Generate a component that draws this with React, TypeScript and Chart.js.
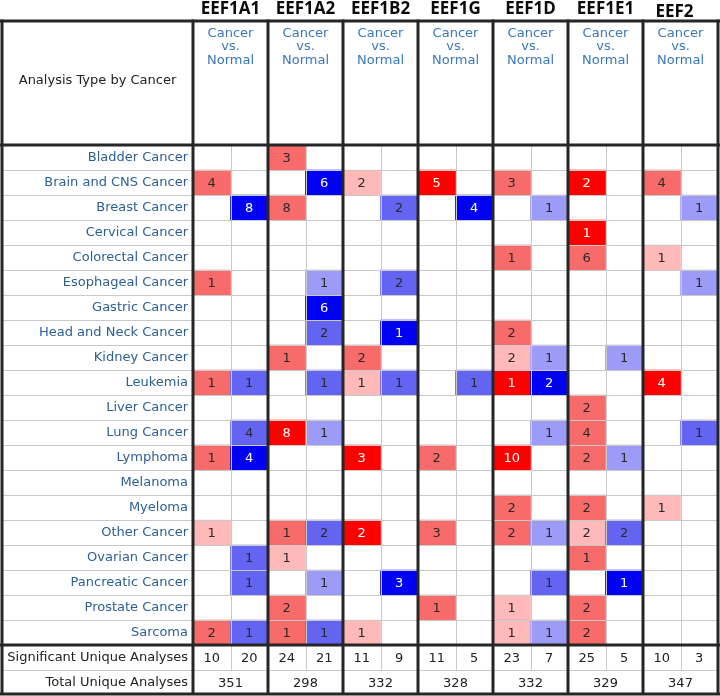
import React, { useEffect, useRef } from "react";
import { Chart, registerables } from "chart.js";

Chart.register(...registerables);

const cancers = [
  "Bladder Cancer", "Brain and CNS Cancer", "Breast Cancer", "Cervical Cancer",
  "Colorectal Cancer", "Esophageal Cancer", "Gastric Cancer", "Head and Neck Cancer",
  "Kidney Cancer", "Leukemia", "Liver Cancer", "Lung Cancer", "Lymphoma", "Melanoma",
  "Myeloma", "Other Cancer", "Ovarian Cancer", "Pancreatic Cancer", "Prostate Cancer", "Sarcoma",
];
const summaryLabels = ["Significant Unique Analyses", "Total Unique Analyses"];
const genes = ["EEF1A1", "EEF1A2", "EEF1B2", "EEF1G", "EEF1D", "EEF1E1", "EEF2"];

// counts per cancer (row order above); shade: 1 light, 2 medium, 3 strong
const a1Up = [0, 4, 0, 0, 0, 1, 0, 0, 0, 1, 0, 0, 1, 0, 0, 1, 0, 0, 0, 2];
const a1UpShade = [0, 2, 0, 0, 0, 2, 0, 0, 0, 2, 0, 0, 2, 0, 0, 1, 0, 0, 0, 2];
const a1Down = [0, 0, 8, 0, 0, 0, 0, 0, 0, 1, 0, 4, 4, 0, 0, 0, 1, 1, 0, 1];
const a1DownShade = [0, 0, 3, 0, 0, 0, 0, 0, 0, 2, 0, 2, 3, 0, 0, 0, 2, 2, 0, 2];
const a2Up = [3, 0, 8, 0, 0, 0, 0, 0, 1, 0, 0, 8, 0, 0, 0, 1, 1, 0, 2, 1];
const a2UpShade = [2, 0, 2, 0, 0, 0, 0, 0, 2, 0, 0, 3, 0, 0, 0, 2, 1, 0, 2, 2];
const a2Down = [0, 6, 0, 0, 0, 1, 6, 2, 0, 1, 0, 1, 0, 0, 0, 2, 0, 1, 0, 1];
const a2DownShade = [0, 3, 0, 0, 0, 1, 3, 2, 0, 2, 0, 1, 0, 0, 0, 2, 0, 1, 0, 2];
const b2Up = [0, 2, 0, 0, 0, 0, 0, 0, 2, 1, 0, 0, 3, 0, 0, 2, 0, 0, 0, 1];
const b2UpShade = [0, 1, 0, 0, 0, 0, 0, 0, 2, 1, 0, 0, 3, 0, 0, 3, 0, 0, 0, 1];
const b2Down = [0, 0, 2, 0, 0, 2, 0, 1, 0, 1, 0, 0, 0, 0, 0, 0, 0, 3, 0, 0];
const b2DownShade = [0, 0, 2, 0, 0, 2, 0, 3, 0, 2, 0, 0, 0, 0, 0, 0, 0, 3, 0, 0];
const gUp = [0, 5, 0, 0, 0, 0, 0, 0, 0, 0, 0, 0, 2, 0, 0, 3, 0, 0, 1, 0];
const gUpShade = [0, 3, 0, 0, 0, 0, 0, 0, 0, 0, 0, 0, 2, 0, 0, 2, 0, 0, 2, 0];
const gDown = [0, 0, 4, 0, 0, 0, 0, 0, 0, 1, 0, 0, 0, 0, 0, 0, 0, 0, 0, 0];
const gDownShade = [0, 0, 3, 0, 0, 0, 0, 0, 0, 2, 0, 0, 0, 0, 0, 0, 0, 0, 0, 0];
const dUp = [0, 3, 0, 0, 1, 0, 0, 2, 2, 1, 0, 0, 10, 0, 2, 2, 0, 0, 1, 1];
const dUpShade = [0, 2, 0, 0, 2, 0, 0, 2, 1, 3, 0, 0, 3, 0, 2, 2, 0, 0, 1, 1];
const dDown = [0, 0, 1, 0, 0, 0, 0, 0, 1, 2, 0, 1, 0, 0, 0, 1, 0, 1, 0, 1];
const dDownShade = [0, 0, 1, 0, 0, 0, 0, 0, 1, 3, 0, 1, 0, 0, 0, 1, 0, 2, 0, 1];
const e1Up = [0, 2, 0, 1, 6, 0, 0, 0, 0, 0, 2, 4, 2, 0, 2, 2, 1, 0, 2, 2];
const e1UpShade = [0, 3, 0, 3, 2, 0, 0, 0, 0, 0, 2, 2, 2, 0, 2, 1, 2, 0, 2, 2];
const e1Down = [0, 0, 0, 0, 0, 0, 0, 0, 1, 0, 0, 0, 1, 0, 0, 2, 0, 1, 0, 0];
const e1DownShade = [0, 0, 0, 0, 0, 0, 0, 0, 1, 0, 0, 0, 1, 0, 0, 2, 0, 3, 0, 0];
const f2Up = [0, 4, 0, 0, 1, 0, 0, 0, 0, 4, 0, 0, 0, 0, 1, 0, 0, 0, 0, 0];
const f2UpShade = [0, 2, 0, 0, 1, 0, 0, 0, 0, 3, 0, 0, 0, 0, 1, 0, 0, 0, 0, 0];
const f2Down = [0, 0, 1, 0, 0, 1, 0, 0, 0, 0, 0, 1, 0, 0, 0, 0, 0, 0, 0, 0];
const f2DownShade = [0, 0, 1, 0, 0, 1, 0, 0, 0, 0, 0, 2, 0, 0, 0, 0, 0, 0, 0, 0];

const significant = [10, 20, 24, 21, 11, 9, 11, 5, 23, 7, 25, 5, 10, 3];
const totals = [351, 298, 332, 328, 332, 329, 347];

const counts = [a1Up, a1Down, a2Up, a2Down, b2Up, b2Down, gUp, gDown, dUp, dDown, e1Up, e1Down, f2Up, f2Down];
const shades = [a1UpShade, a1DownShade, a2UpShade, a2DownShade, b2UpShade, b2DownShade, gUpShade, gDownShade,
  dUpShade, dDownShade, e1UpShade, e1DownShade, f2UpShade, f2DownShade];

const upColors = ["#ffffff", "#ffb9b9", "#f86b6b", "#ff0000"];
const downColors = ["#ffffff", "#9c9cf8", "#6464f2", "#0000f2"];

const FONT = "'DejaVu Sans', sans-serif";

export default function App() {
  const ref = useRef<HTMLCanvasElement>(null);
  useEffect(() => {
    const canvas = ref.current!;
    const subCols = genes.flatMap((g) => [g + " up", g + " down"]);
    const nRows = cancers.length;
    const datasets = cancers.map((name, r) => ({
      label: name,
      data: subCols.map((_, c) => (counts[c][r] > 0 ? [r, r + 1] : null)) as any,
      backgroundColor: subCols.map((_, c) =>
        c % 2 === 0 ? upColors[shades[c][r]] : downColors[shades[c][r]]
      ),
      borderWidth: 0,
      grouped: false,
      barPercentage: 1,
      categoryPercentage: 1,
    }));

    const tablePlugin = {
      id: "tablePlugin",
      beforeDraw(chart: any) {
        const { ctx } = chart;
        ctx.save();
        ctx.fillStyle = "#ffffff";
        ctx.fillRect(0, 0, chart.width, chart.height);
        ctx.restore();
      },
      afterDatasetsDraw(chart: any) {
        const { ctx, chartArea } = chart;
        const xs = chart.scales.x;
        const ys = chart.scales.y;
        const half = (xs.getPixelForValue(1) - xs.getPixelForValue(0)) / 2;
        const left = 2;
        const headerTop = 21;
        ctx.save();
        // thin grid
        ctx.strokeStyle = "#c9c9c9";
        ctx.lineWidth = 1;
        for (let v = 1; v <= nRows + 1; v++) {
          if (v === nRows) continue;
          const y = Math.round(ys.getPixelForValue(v)) + 0.5;
          ctx.beginPath();
          ctx.moveTo(left, y);
          ctx.lineTo(chartArea.right, y);
          ctx.stroke();
        }
        for (let g = 0; g < genes.length; g++) {
          const x = Math.round(xs.getPixelForValue(2 * g) + half) + 0.5;
          ctx.beginPath();
          ctx.moveTo(x, chartArea.top);
          ctx.lineTo(x, ys.getPixelForValue(nRows + 1));
          ctx.stroke();
        }
        // thick borders
        ctx.strokeStyle = "#262626";
        ctx.lineWidth = 3;
        const hLines = [headerTop, chartArea.top, ys.getPixelForValue(nRows), chartArea.bottom - 1];
        hLines.forEach((y) => {
          ctx.beginPath();
          ctx.moveTo(0, Math.round(y));
          ctx.lineTo(chart.width, Math.round(y));
          ctx.stroke();
        });
        const vLines = [left - 0.5, chartArea.left];
        for (let g = 1; g < genes.length; g++) vLines.push(xs.getPixelForValue(2 * g) - half);
        vLines.push(chartArea.right);
        vLines.forEach((x) => {
          ctx.beginPath();
          ctx.moveTo(Math.round(x), headerTop - 1.5);
          ctx.lineTo(Math.round(x), chartArea.bottom);
          ctx.stroke();
        });

        // cell counts
        ctx.font = "13px " + FONT;
        ctx.textAlign = "center";
        ctx.textBaseline = "middle";
        chart.data.datasets.forEach((ds: any, r: number) => {
          const meta = chart.getDatasetMeta(r);
          meta.data.forEach((el: any, c: number) => {
            const n = counts[c][r];
            if (!n) return;
            ctx.fillStyle = shades[c][r] === 3 ? "#ffffff" : "#2a2a2a";
            ctx.fillText(String(n), el.x, (el.y + el.base) / 2 + 1);
          });
        });
        // summary rows
        ctx.fillStyle = "#222222";
        significant.forEach((v, c) => {
          ctx.fillText(String(v), xs.getPixelForValue(c), ys.getPixelForValue(nRows + 0.5) + 1);
        });
        totals.forEach((v, g) => {
          ctx.fillText(String(v), xs.getPixelForValue(2 * g) + half, ys.getPixelForValue(nRows + 1.5) + 1);
        });

        // header
        ctx.fillStyle = "#222222";
        ctx.fillText("Analysis Type by Cancer", (left + chartArea.left) / 2, 81);
        genes.forEach((g, i) => {
          const cx = xs.getPixelForValue(2 * i) + half;
          ctx.fillStyle = "#3b77ba";
          ctx.font = "13px " + FONT;
          ctx.fillText("Cancer", cx, 34);
          ctx.fillText("vs.", cx, 47);
          ctx.fillText("Normal", cx, 61);
          ctx.fillStyle = "#0a0a0a";
          ctx.font = "bold 17px 'Open Sans', sans-serif";
          ctx.fillText(g, cx + (i === genes.length - 1 ? -6 : 0), i === genes.length - 1 ? 12 : 9);
        });
        ctx.restore();
      },
    };

    const chart = new Chart(canvas, {
      type: "bar",
      data: { labels: subCols, datasets },
      options: {
        animation: false,
        responsive: false,
        devicePixelRatio: 1,
        layout: { padding: { left: 1, top: 145, right: 2, bottom: 1 } },
        plugins: { legend: { display: false }, tooltip: { enabled: false } },
        scales: {
          x: { type: "category", display: false, offset: true },
          y: {
            type: "linear",
            reverse: true,
            min: 0,
            max: nRows + 2,
            grid: { display: false, drawTicks: false },
            border: { display: false },
            afterBuildTicks: (axis: any) => {
              axis.ticks = [...cancers, ...summaryLabels].map((_, i) => ({ value: i + 0.5 }));
            },
            afterFit: (axis: any) => {
              axis.width = 192;
              axis.paddingTop = 0;
              axis.paddingBottom = 0;
            },
            ticks: {
              autoSkip: false,
              padding: 5,
              font: { family: FONT, size: 13 },
              color: (ctx: any) => (ctx.index < nRows ? "#2d5f94" : "#222222"),
              callback: (_v: any, i: number) => [...cancers, ...summaryLabels][i],
            },
          },
        },
      },
      plugins: [tablePlugin],
    });
    return () => chart.destroy();
  }, []);

  return (
    <div style={{ position: "absolute", left: 0, top: 0, width: 720, height: 696 }}>
      <canvas ref={ref} width={720} height={696} />
    </div>
  );
}
